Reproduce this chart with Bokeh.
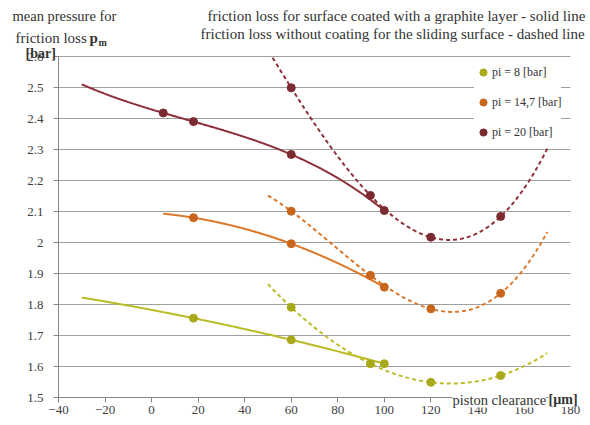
import numpy as np
from bokeh.plotting import figure
from bokeh.models import Label, Legend, LegendItem, FixedTicker, Range1d
from bokeh.embed import file_html
from bokeh.resources import INLINE

# ---- data ----
series_labels = ["pi = 8 [bar]", "pi = 14,7 [bar]", "pi = 20 [bar]"]

# surface coated with graphite layer (solid lines)
coated_x_8 = [18, 60, 100]
coated_y_8 = [1.756, 1.686, 1.609]
coated_x_14 = [18, 60, 100]
coated_y_14 = [2.080, 1.996, 1.856]
coated_x_20 = [5, 18, 60, 100]
coated_y_20 = [2.418, 2.390, 2.284, 2.103]

# without coating (dashed lines)
uncoated_x = [60, 94, 120, 150]
uncoated_y_8 = [1.791, 1.609, 1.549, 1.571]
uncoated_y_14 = [2.101, 1.894, 1.786, 1.836]
uncoated_y_20 = [2.499, 2.152, 2.017, 2.084]

# trendline spans (x from / to)
coated_span_8 = (-30, 100)
coated_span_14 = (5, 100)
coated_span_20 = (-30, 100)
uncoated_span = (50, 170)

x_ticks = [-40, -20, 0, 20, 40, 60, 80, 100, 120, 140, 160, 180]
y_ticks = [1.5, 1.6, 1.7, 1.8, 1.9, 2.0, 2.1, 2.2, 2.3, 2.4, 2.5, 2.6]
y_tick_labels = ["1.5", "1.6", "1.7", "1.8", "1.9", "2", "2.1", "2.2", "2.3", "2.4", "2.5", "2.6"]

line_colors = ["#bbbb26", "#db782a", "#8e3038"]
dot_colors = ["#a9a91c", "#c9661c", "#7b2a31"]

FONT = "Liberation Serif, Times New Roman, serif"

# ---- layout (page pixels) ----
W, H = 590, 425
PAGE0 = 0
AX_L, AX_R, AX_T, AX_B = 58, 570, 56, 397      # plot area on the page
X0, X1 = x_ticks[0], x_ticks[-1]
Y0, Y1 = y_ticks[0], y_ticks[-1]
kx = (AX_R - AX_L) / (X1 - X0)
ky = (AX_B - AX_T) / (Y1 - Y0)
x_start = X0 - (AX_L - PAGE0) / kx
x_end = X0 + (PAGE0 + W - AX_L) / kx
y_end = Y1 + (AX_T - PAGE0) / ky
y_start = Y0 - (PAGE0 + H - AX_B) / ky

p = figure(width=W, height=H, x_range=Range1d(x_start, x_end), y_range=Range1d(y_start, y_end),
           output_backend="svg", toolbar_location=None, min_border=0)
p.outline_line_color = None
p.background_fill_color = "white"
p.xgrid.visible = False
p.ygrid.grid_line_color = "#a0a0a0"
p.ygrid.grid_line_width = 1
try:
    p.ygrid[0].cross_bounds = (X0, X1)
except Exception:
    pass
p.xaxis.ticker = FixedTicker(ticks=x_ticks)
p.yaxis.ticker = FixedTicker(ticks=y_ticks)
p.ygrid.ticker = FixedTicker(ticks=y_ticks)
p.yaxis.major_label_overrides = {t: l for t, l in zip(y_ticks, y_tick_labels)}
p.xaxis.fixed_location = Y0
p.yaxis.fixed_location = X0
p.xaxis.bounds = (X0, X1)
p.yaxis.bounds = (Y0, Y1)
for ax in (p.xaxis, p.yaxis):
    ax.axis_line_color = "#868686"
    ax.major_tick_line_color = "#868686"
    ax.major_tick_out = 5
    ax.major_tick_in = 0
    ax.minor_tick_line_color = None
    ax.major_label_text_font = FONT
    ax.major_label_text_font_size = "13px"
    ax.major_label_text_color = "#404040"
p.xaxis.major_label_standoff = 3
p.yaxis.major_label_standoff = 10


def trend(xs, ys, span):
    coef = np.polyfit(xs, ys, len(xs) - 1)
    xx = np.linspace(span[0], span[1], 300)
    return xx, np.polyval(coef, xx)


coated = [(coated_x_8, coated_y_8, coated_span_8),
          (coated_x_14, coated_y_14, coated_span_14),
          (coated_x_20, coated_y_20, coated_span_20)]
uncoated = [uncoated_y_8, uncoated_y_14, uncoated_y_20]

for i in range(3):
    cx, cy, cspan = coated[i]
    xx, yy = trend(uncoated_x, uncoated[i], uncoated_span)
    keep = yy <= Y1
    p.line(xx[keep], yy[keep], line_color=line_colors[i], line_width=2, line_dash="4 3")
    xx, yy = trend(cx, cy, cspan)
    p.line(xx, yy, line_color=line_colors[i], line_width=2)

legend_items = []
for i in range(3):
    cx, cy, cspan = coated[i]
    r = p.scatter(cx, cy, size=8, fill_color=dot_colors[i], line_color=dot_colors[i])
    p.scatter(uncoated_x, uncoated[i], size=8, fill_color=dot_colors[i], line_color=dot_colors[i])
    legend_items.append(LegendItem(label=series_labels[i], renderers=[r]))

LEG_L, LEG_B = 474, 142
legend = Legend(items=legend_items, location=(LEG_L - PAGE0, PAGE0 + H - LEG_B), margin=0,
                padding=3, spacing=10,
                glyph_width=18, glyph_height=18, label_height=20, label_standoff=0,
                label_text_font=FONT, label_text_font_size="12px", label_text_color="#333333",
                border_line_color=None, background_fill_color="white", background_fill_alpha=1.0)
p.add_layout(legend)


def lab(X, Y, text, size, bold=False, bg=None, color="#333333"):
    kw = {}
    if bg:
        kw["background_fill_color"] = bg
    p.add_layout(Label(x=X - PAGE0, y=PAGE0 + H - Y, x_units="screen", y_units="screen", text=text,
                       text_font=FONT, text_font_size=size,
                       text_font_style="bold" if bold else "normal",
                       text_baseline="middle", text_align="left", text_color=color, **kw))


lab(12, 15, "mean pressure for", "14.5px")
lab(15, 37, "friction loss", "15px")
lab(89, 37, "p", "15px", bold=True)
lab(98, 42, "m", "10px", bold=True)
lab(25, 53, "[bar]", "14px", bold=True)
lab(207, 15, "friction loss for surface coated with a graphite layer - solid line", "15px")
lab(200, 33, "friction loss without coating for the sliding surface - dashed line", "15px")
lab(452, 399, "piston clearance", "14.5px", bg="white")
lab(548, 399, "[µm]", "14px", bold=True, bg="white")

open("out.html", "w").write(file_html(p, INLINE))
